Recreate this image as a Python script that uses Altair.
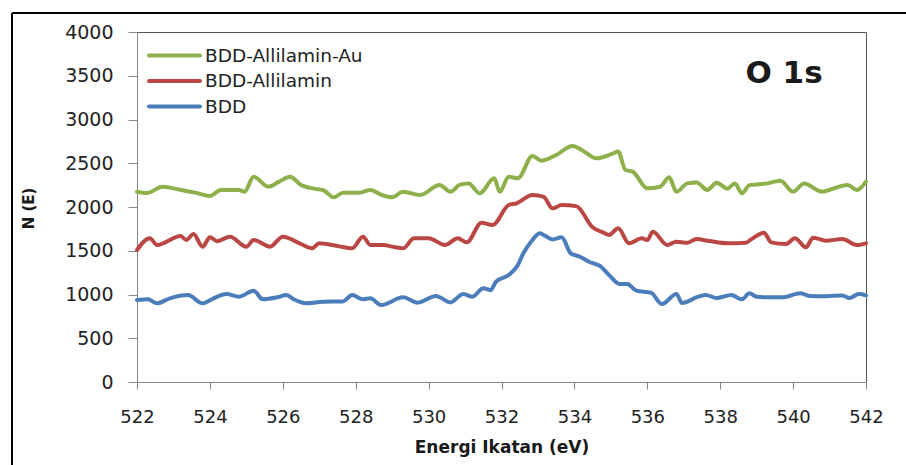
import altair as alt
import pandas as pd

series_names = ["BDD-Allilamin-Au", "BDD-Allilamin", "BDD"]
series_colors = ["#8DB04B", "#BB4744", "#4A7DBA"]

au_x = [522.0, 522.27, 522.7, 523.2, 523.6, 524.0, 524.3, 524.8, 524.95, 525.2, 525.6, 525.9,
        526.2, 526.5, 526.85, 527.1, 527.4, 527.65, 528.1, 528.4, 528.7, 529.0, 529.3, 529.77,
        530.3, 530.6, 530.85, 531.1, 531.4, 531.8, 531.95, 532.2, 532.45, 532.85, 533.1, 533.5,
        533.95, 534.2, 534.6, 535.05, 535.2, 535.4, 535.6, 536.0, 536.35, 536.6, 536.8, 537.1,
        537.35, 537.65, 537.9, 538.2, 538.4, 538.6, 538.8, 539.3, 539.65, 540.0, 540.3, 540.8,
        541.1, 541.5, 541.75, 542.0]
au_y = [2175, 2160, 2232, 2194, 2164, 2126, 2194, 2194, 2175, 2347, 2232, 2290,
        2347, 2252, 2210, 2194, 2111, 2164, 2164, 2195, 2140, 2111, 2175, 2137,
        2252, 2175, 2252, 2270, 2156, 2328, 2175, 2347, 2328, 2583, 2530, 2594,
        2697, 2652, 2557, 2610, 2633, 2423, 2404, 2213, 2232, 2339, 2175, 2270,
        2280, 2194, 2278, 2210, 2270, 2156, 2250, 2270, 2300, 2175, 2270, 2175,
        2210, 2252, 2194, 2290]

al_x = [522.0, 522.35, 522.55, 523.2, 523.35, 523.55, 523.8, 524.0, 524.2, 524.55, 525.0, 525.2,
        525.65, 526.0, 526.5, 526.8, 527.0, 527.5, 527.9, 528.2, 528.4, 528.75, 529.0, 529.3,
        529.6, 530.0, 530.45, 530.8, 531.05, 531.45, 531.75, 532.2, 532.4, 532.85, 533.15, 533.4,
        533.65, 534.05, 534.5, 534.8, 534.95, 535.2, 535.5, 535.85, 536.0, 536.15, 536.55, 536.8,
        537.1, 537.35, 537.7, 538.2, 538.7, 538.85, 539.2, 539.4, 539.8, 540.05, 540.35, 540.55,
        540.9, 541.35, 541.75, 542.0]
al_y = [1509, 1642, 1566, 1669, 1623, 1692, 1547, 1654, 1610, 1661, 1547, 1623,
        1547, 1661, 1577, 1528, 1585, 1555, 1528, 1661, 1566, 1566, 1547, 1528,
        1642, 1642, 1566, 1642, 1596, 1821, 1794, 2023, 2040, 2137, 2118, 1985,
        2023, 2010, 1768, 1707, 1680, 1756, 1585, 1642, 1623, 1718, 1566, 1604,
        1592, 1634, 1611, 1585, 1592, 1630, 1707, 1596, 1577, 1642, 1539, 1650,
        1615, 1634, 1566, 1585]

bdd_x = [522.0, 522.3, 522.55, 522.9, 523.4, 523.8, 524.1, 524.45, 524.8, 525.2, 525.45, 525.85,
         526.1, 526.3, 526.65, 527.1, 527.65, 527.9, 528.2, 528.4, 528.7, 529.3, 529.7, 530.2,
         530.6, 530.95, 531.2, 531.5, 531.7, 531.85, 532.2, 532.45, 532.6, 532.85, 533.05, 533.2,
         533.4, 533.65, 533.9, 534.15, 534.4, 534.7, 534.95, 535.25, 535.45, 535.7, 536.1, 536.4,
         536.8, 536.95, 537.4, 537.6, 537.9, 538.3, 538.6, 538.8, 539.0, 539.3, 539.7, 540.2,
         540.45, 540.9, 541.35, 541.55, 541.8, 542.0]
bdd_y = [937, 945, 899, 956, 994, 899, 956, 1006, 975, 1044, 945, 968,
         994, 945, 899, 918, 921, 994, 945, 956, 880, 968, 907, 983,
         910, 1006, 975, 1071, 1050, 1147, 1223, 1337, 1471, 1623, 1699, 1670,
         1630, 1654, 1471, 1432, 1375, 1326, 1223, 1120, 1120, 1044, 1021, 891,
         1006, 903, 975, 994, 960, 994, 945, 1013, 975, 968, 968, 1013,
         983, 979, 990, 960, 1006, 990]

x_ticks = list(range(522, 543, 2))
y_ticks = list(range(0, 4001, 500))

frames = []
for name, xs, ys in [("BDD", bdd_x, bdd_y), ("BDD-Allilamin", al_x, al_y),
                     ("BDD-Allilamin-Au", au_x, au_y)]:
    frames.append(pd.DataFrame({"energy": xs, "counts": ys, "series": name}))
df = pd.concat(frames, ignore_index=True)

FONT = "DejaVu Sans"

lines = alt.Chart(df).mark_line(strokeWidth=4, strokeJoin="round", strokeCap="round",
                                interpolate="monotone").encode(
    x=alt.X("energy:Q",
            scale=alt.Scale(domain=[522, 542], nice=False, zero=False),
            axis=alt.Axis(values=x_ticks, format="d", title="Energi Ikatan (eV)",
                          tickSize=7, labelPadding=19, labelFlush=False,
                          titleY=65, titleBaseline="middle", titleFontSize=17)),
    y=alt.Y("counts:Q",
            scale=alt.Scale(domain=[0, 4000], nice=False),
            axis=alt.Axis(values=y_ticks, format="d", title="N (E)",
                          tickSize=9, labelPadding=15, labelFlush=False, labelFontSize=19,
                          titleAngle=270, titleX=-109, titleY=176, titleAlign="center",
                          titleBaseline="middle", titleFontSize=15)),
    color=alt.Color("series:N", scale=alt.Scale(domain=series_names, range=series_colors),
                    legend=None),
    detail="series:N",
)

one = pd.DataFrame({"k": [0]})
layers = [lines]
legend_rows_y = [23.5, 49, 74.5]
for name, col, yy in zip(series_names, series_colors, legend_rows_y):
    layers.append(alt.Chart(one).mark_rule(strokeWidth=4, strokeCap="round", color=col).encode(
        x=alt.value(12), x2=alt.value(63), y=alt.value(yy)))
    layers.append(alt.Chart(one).mark_text(align="left", baseline="middle", font=FONT,
                                           fontSize=18.5, color="#222222").encode(
        x=alt.value(68), y=alt.value(yy), text=alt.value(name)))

layers.append(alt.Chart(one).mark_text(align="center", baseline="middle", font=FONT,
                                       fontSize=31, fontWeight="bold", color="#1a1a1a").encode(
    x=alt.value(647), y=alt.value(42), text=alt.value("O 1s")))

# outer frame of the figure
layers.append(alt.Chart(one).mark_rule(strokeWidth=2, color="#000000").encode(
    x=alt.value(-125), y=alt.value(-19), y2=alt.value(440)))
layers.append(alt.Chart(one).mark_rule(strokeWidth=2, color="#000000").encode(
    x=alt.value(-125), x2=alt.value(775), y=alt.value(-19)))

chart = alt.layer(*layers).properties(
    width=729, height=350,
    padding={"left": 137, "top": 32, "right": 40, "bottom": 83},
    autosize=alt.AutoSizeParams(type="none"),
    background="white",
).configure_view(
    stroke="#555555", strokeWidth=1
).configure_axis(
    grid=False, labelFont=FONT, labelFontSize=18, labelColor="#222222",
    titleFont=FONT, titleFontWeight="bold", titleColor="#1a1a1a",
    domainColor="#868686", tickColor="#868686", domainWidth=1, tickWidth=1,
)

chart.save("out.html", embed_options={"renderer": "svg", "actions": False})
